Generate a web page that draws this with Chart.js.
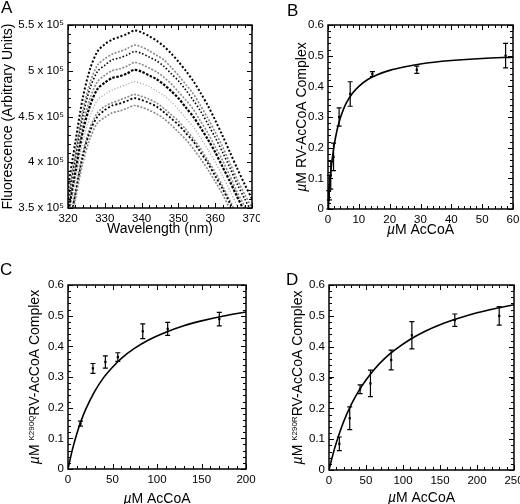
<!DOCTYPE html>
<html>
<head>
<meta charset="utf-8">
<script src="https://cdn.jsdelivr.net/npm/chart.js@4.4.0/dist/chart.umd.min.js"></script>
<style>
  body { margin: 0; background: #fff; }
  #wrap { position: relative; width: 520px; height: 504px; overflow: hidden; }
  .panel { position: absolute; width: 260px; height: 252px; }
</style>
</head>
<body>
<div id="wrap">
  <div class="panel" style="left:0;top:0"><canvas id="chartA" width="260" height="252"></canvas></div>
  <div class="panel" style="left:260px;top:0"><canvas id="chartB" width="260" height="252"></canvas></div>
  <div class="panel" style="left:0;top:252px"><canvas id="chartC" width="260" height="252"></canvas></div>
  <div class="panel" style="left:260px;top:252px"><canvas id="chartD" width="260" height="252"></canvas></div>
</div>
<script>
// ---- panel A: emission spectra (fluorescence in units of 10^5) ----
const waveA = [320,322,324,326,328,330,332,334,336,338,340,342,344,346,348,350,352,354,356,358,360,362,364,366,368,370]
const fluor1 = [3.72,4.22,4.70,5.02,5.21,5.29,5.34,5.37,5.40,5.44,5.42,5.38,5.33,5.27,5.19,5.10,5.00,4.89,4.76,4.62,4.46,4.29,4.11,3.93,3.76,3.60]
const fluor2 = [3.61,4.10,4.56,4.87,5.06,5.13,5.18,5.21,5.24,5.28,5.26,5.22,5.17,5.12,5.04,4.95,4.85,4.75,4.62,4.48,4.33,4.17,3.99,3.81,3.65,3.50]
const fluor3 = [3.56,4.04,4.50,4.81,4.99,5.06,5.12,5.14,5.17,5.21,5.19,5.15,5.11,5.05,4.97,4.89,4.79,4.68,4.56,4.42,4.27,4.11,3.94,3.76,3.60,3.45]
const fluor4 = [3.48,3.95,4.40,4.70,4.88,4.95,5.00,5.02,5.05,5.09,5.07,5.03,4.99,4.93,4.86,4.77,4.68,4.58,4.45,4.32,4.17,4.02,3.85,3.67,3.52,3.37]
const fluor5 = [3.43,3.89,4.33,4.62,4.80,4.87,4.92,4.94,4.97,5.01,4.99,4.95,4.91,4.85,4.78,4.70,4.60,4.50,4.38,4.25,4.11,3.95,3.79,3.62,3.46,3.32]
const fluor6 = [3.34,3.79,4.22,4.50,4.68,4.74,4.79,4.82,4.85,4.88,4.86,4.83,4.78,4.73,4.66,4.58,4.48,4.39,4.27,4.14,4.00,3.85,3.69,3.52,3.37,3.23]
const fluor7 = [3.24,3.68,4.10,4.38,4.54,4.61,4.65,4.68,4.71,4.74,4.72,4.69,4.65,4.59,4.52,4.45,4.36,4.26,4.15,4.02,3.89,3.74,3.58,3.42,3.28,3.14]
const fluor8 = [3.21,3.65,4.06,4.34,4.50,4.57,4.62,4.64,4.67,4.70,4.68,4.65,4.61,4.55,4.48,4.41,4.32,4.23,4.11,3.99,3.85,3.71,3.55,3.39,3.25,3.11]
const fluor9 = [3.16,3.59,3.99,4.26,4.43,4.49,4.54,4.56,4.59,4.62,4.60,4.57,4.53,4.48,4.41,4.33,4.25,4.15,4.04,3.92,3.79,3.65,3.49,3.34,3.19,3.06]

// ---- panel B: RV-AcCoA binding ----
const concB = [0.23,0.45,0.9,1.8,3.6,7.2,14.4,28.8,57.6]
const boundB = [0.03,0.07,0.11,0.17,0.30,0.375,0.44,0.454,0.50]
const errB = [0.03,0.04,0.045,0.045,0.03,0.04,0.008,0.012,0.04]
const fitXB = [0,0.25,0.5,1,1.5,2,3,4,5,6,8,10,13,16,20,25,30,40,50,60]
const fitYB = [0,0.040,0.074,0.130,0.173,0.208,0.260,0.297,0.325,0.347,0.378,0.400,0.423,0.438,0.452,0.464,0.473,0.484,0.491,0.495]

// ---- panel C: K290Q ----
const concC = [14,28,42,56,84,112,170]
const boundC = [0.148,0.328,0.349,0.365,0.449,0.457,0.489]
const errC = [0.008,0.016,0.02,0.014,0.024,0.021,0.022]
const fitXC = [0,5,10,15,20,30,40,50,60,75,90,110,130,150,175,200]
const fitYC = [0,0.064,0.116,0.159,0.195,0.253,0.298,0.332,0.361,0.394,0.420,0.446,0.467,0.483,0.499,0.512]

// ---- panel D: K290R ----
const concD = [14,28,42,56,84,112,170,230]
const boundD = [0.085,0.168,0.262,0.281,0.357,0.437,0.486,0.50]
const errD = [0.022,0.037,0.014,0.043,0.032,0.044,0.02,0.03]
const fitXD = [0,5,10,20,30,40,50,60,75,90,110,130,150,175,200,225,250]
const fitYD = [0,0.048,0.089,0.158,0.212,0.256,0.292,0.323,0.361,0.391,0.424,0.450,0.471,0.492,0.510,0.524,0.536]

const FONT = 'Arial, "Liberation Sans", Helvetica, sans-serif'

function pts(xs, ys) {
    return xs.map((x, i) => ({x: x, y: ys[i]}))
}

function runFont(r) {
    return (r.i ? 'italic ' : '') + (r.s ? 8 : 14) + 'px ' + FONT
}

function drawRuns(ctx, runs, cx, cy, rot) {
    let w = 0
    runs.forEach(r => { ctx.font = runFont(r); w += ctx.measureText(r.t).width })
    ctx.save()
    ctx.translate(cx, cy)
    ctx.rotate(rot)
    ctx.textAlign = 'left'
    ctx.textBaseline = 'middle'
    let x = -w / 2
    runs.forEach(r => {
        ctx.font = runFont(r)
        ctx.fillText(r.t, x, r.s ? -3 : 0)
        x += ctx.measureText(r.t).width
    })
    ctx.restore()
}

// frame with inward ticks on all four sides + titles + panel letter
function decoPlugin(cfg) {
    return {
        id: 'deco',
        afterDatasetsDraw(chart) {
            const {ctx, chartArea: a, scales: {x, y}} = chart
            ctx.save()
            ctx.strokeStyle = '#000'
            ctx.lineWidth = 1
            const marks = (scale, step, len, horiz) => {
                const n = Math.round((scale.max - scale.min) / step)
                ctx.beginPath()
                for (let i = 0; i <= n; i++) {
                    const p = Math.round(scale.getPixelForValue(scale.min + i * step)) + 0.5
                    if (horiz) {
                        ctx.moveTo(p, a.bottom); ctx.lineTo(p, a.bottom - len)
                        ctx.moveTo(p, a.top); ctx.lineTo(p, a.top + len)
                    } else {
                        ctx.moveTo(a.left, p); ctx.lineTo(a.left + len, p)
                        ctx.moveTo(a.right, p); ctx.lineTo(a.right - len, p)
                    }
                }
                ctx.stroke()
            }
            marks(x, cfg.xMinor, 3, true)
            marks(x, cfg.xMajor, 5, true)
            marks(y, cfg.yMinor, 3, false)
            marks(y, cfg.yMajor, 5, false)
            ctx.lineWidth = 1.5
            ctx.strokeRect(a.left, a.top, a.right - a.left, a.bottom - a.top)

            ctx.fillStyle = '#000'
            drawRuns(ctx, cfg.xTitle, (a.left + a.right) / 2, cfg.xTitleY, 0)
            drawRuns(ctx, cfg.yTitle, cfg.yTitleX, (a.top + a.bottom) / 2, -Math.PI / 2)
            ctx.font = '17px ' + FONT
            ctx.textAlign = 'left'
            ctx.textBaseline = 'top'
            ctx.fillText(cfg.letter, cfg.letterX, cfg.letterY)
            ctx.restore()
        }
    }
}

const errorBars = {
    id: 'errorBars',
    afterDatasetsDraw(chart) {
        const {ctx, scales: {x, y}} = chart
        ctx.save()
        ctx.strokeStyle = '#000'
        ctx.lineWidth = 1.2
        chart.data.datasets.forEach(ds => {
            if (!ds.errors) return
            ds.data.forEach((p, i) => {
                const px = x.getPixelForValue(p.x)
                const t = y.getPixelForValue(p.y + ds.errors[i])
                const b = y.getPixelForValue(p.y - ds.errors[i])
                ctx.beginPath()
                ctx.moveTo(px, t); ctx.lineTo(px, b)
                ctx.moveTo(px - 2.5, t); ctx.lineTo(px + 2.5, t)
                ctx.moveTo(px - 2.5, b); ctx.lineTo(px + 2.5, b)
                ctx.stroke()
            })
        })
        ctx.restore()
    }
}

function tickFont() {
    return {family: FONT, size: 11.5}
}

function makeOptions(box, xr, yr, yFmt) {
    return {
        responsive: false,
        animation: false,
        layout: {padding: {left: 0, top: box.top, right: box.right, bottom: 0}},
        plugins: {legend: {display: false}, tooltip: {enabled: false}},
        scales: {
            x: {
                type: 'linear', min: xr[0], max: xr[1],
                ticks: {stepSize: xr[2], padding: 4, color: '#000', font: tickFont(), maxRotation: 0, autoSkip: false},
                grid: {display: false, drawTicks: false, tickLength: 0}, border: {display: false},
                afterFit(s) { s.height = box.bottom; s.paddingLeft = 0; s.paddingRight = 0 }
            },
            y: {
                type: 'linear', min: yr[0], max: yr[1],
                ticks: {stepSize: yr[2], padding: 4, color: '#000', font: tickFont(), callback: yFmt},
                grid: {display: false, drawTicks: false, tickLength: 0}, border: {display: false},
                afterFit(s) { s.width = box.left }
            }
        }
    }
}

function spectrum(ys, color, width, dash) {
    return {
        data: pts(waveA, ys), borderColor: color, borderWidth: width, borderDash: dash,
        pointRadius: 0, tension: 0.3, clip: 0, fill: false
    }
}

// panel A
new Chart(document.getElementById('chartA'), {
    type: 'line',
    data: {datasets: [
        spectrum(fluor9, '#8a8a8a', 1.6, [2, 1.5]),
        spectrum(fluor8, '#000', 1.8, [2, 2]),
        spectrum(fluor7, '#8a8a8a', 1.6, [2, 1.5]),
        spectrum(fluor6, '#999', 1.2, [1, 2]),
        spectrum(fluor5, '#000', 2.2, [2.5, 1.5]),
        spectrum(fluor4, '#8a8a8a', 1.6, [2, 1.5]),
        spectrum(fluor3, '#000', 1.6, [1.5, 2]),
        spectrum(fluor2, '#8a8a8a', 1.6, [2, 1.5]),
        spectrum(fluor1, '#000', 2, [2, 2])
    ]},
    options: makeOptions({left: 68, top: 25, right: 8, bottom: 44}, [320, 370, 10], [3.5, 5.5, 0.5],
        v => (Math.round(v * 10) / 10) + ' x 10\u2075'),
    plugins: [decoPlugin({
        xMajor: 10, xMinor: 2, yMajor: 0.5, yMinor: 0.1,
        xTitle: [{t: 'Wavelength (nm)'}], xTitleY: 229,
        yTitle: [{t: 'Fluorescence (Arbitrary Units)'}], yTitleX: 8,
        letter: 'A', letterX: 1, letterY: 0
    })]
})

function bindingChart(id, box, xr, conc, bound, err, fx, fy, yTitle, deco) {
    return new Chart(document.getElementById(id), {
        type: 'line',
        data: {datasets: [
            {data: pts(fx, fy), borderColor: '#000', borderWidth: 1.6, pointRadius: 0,
             cubicInterpolationMode: 'monotone', fill: false},
            {data: pts(conc, bound), showLine: false, pointStyle: 'rect', pointRadius: 1.6,
             backgroundColor: '#000', borderColor: '#000', borderWidth: 0, errors: err}
        ]},
        options: makeOptions(box, xr, [0, 0.6, 0.1], v => Math.round(v * 10) / 10),
        plugins: [errorBars, decoPlugin(Object.assign({
            yMajor: 0.1, yMinor: 0.02,
            xTitle: [{t: '\u00b5', i: true}, {t: 'M AcCoA'}],
            yTitle: yTitle
        }, deco))]
    })
}

bindingChart('chartB', {left: 68, top: 25, right: 7, bottom: 43}, [0, 60, 10],
    concB, boundB, errB, fitXB, fitYB,
    [{t: '\u00b5', i: true}, {t: 'M RV-AcCoA Complex'}],
    {xMajor: 10, xMinor: 2, xTitleY: 230, yTitleX: 42, letter: 'B', letterX: 27, letterY: 3})

bindingChart('chartC', {left: 68, top: 33, right: 14, bottom: 35}, [0, 200, 50],
    concC, boundC, errC, fitXC, fitYC,
    [{t: '\u00b5', i: true}, {t: 'M '}, {t: 'K290Q', s: true}, {t: 'RV-AcCoA Complex'}],
    {xMajor: 50, xMinor: 10, xTitleY: 247, yTitleX: 35, letter: 'C', letterX: 0, letterY: 10})

bindingChart('chartD', {left: 69, top: 33, right: 6, bottom: 34}, [0, 250, 50],
    concD, boundD, errD, fitXD, fitYD,
    [{t: '\u00b5', i: true}, {t: 'M '}, {t: 'K290R', s: true}, {t: 'RV-AcCoA Complex'}],
    {xMajor: 50, xMinor: 10, xTitleY: 246, yTitleX: 38, letter: 'D', letterX: 26, letterY: 20})
</script>
</body>
</html>
